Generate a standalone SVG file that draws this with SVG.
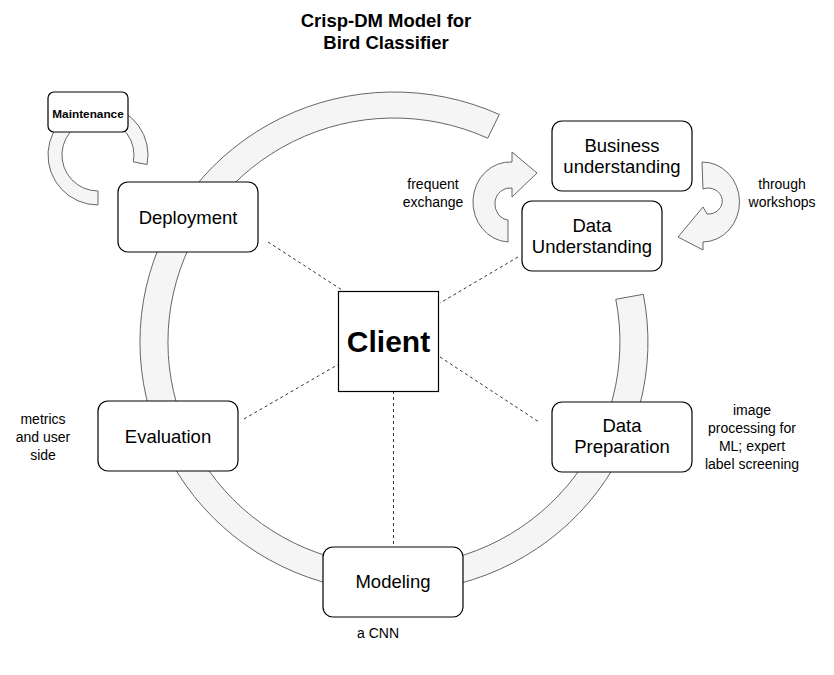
<svg xmlns="http://www.w3.org/2000/svg" width="834" height="675" viewBox="0 0 834 675">
<style>
text{font-family:"Liberation Sans",Arial,Helvetica,sans-serif;fill:#000;text-anchor:middle}
.box{fill:#fff;stroke:#000;stroke-width:1.2}
.band{fill:#f5f5f5;stroke:#666;stroke-width:1}
.lbl{font-size:18.5px}
.note{font-size:14px}
.conn line{stroke:#333;stroke-width:1;stroke-dasharray:3 3}
</style>
<rect width="834" height="675" fill="#fff"/>
<g id="title"><text x="386" y="26.5" style="font-size:18.5px;font-weight:bold">Crisp-DM Model for</text><text x="386" y="48.5" style="font-size:18.5px;font-weight:bold">Bird Classifier</text></g>
<g id="cycle-ring"><path class="band" d="M 643.3 294.3 A 254 250 0 1 1 499.3 114.5 L 487.7 138.2 A 226 224 0 1 0 615.8 299.3 Z"/></g>
<g id="maintenance-arrow"><path class="band" d="M 147.1 164.5 A 50 50 0 1 0 98 205 L 98 191 A 36 36 0 1 1 133.3 161.9 Z"/></g>
<g id="exchange-arrow"><path class="band" d="M 508 242 A 37 40 0 1 1 512 162 L 512 152 L 537 173 L 512 197 L 512 188 A 15 16 0 1 0 508 220 Z"/></g>
<g id="workshop-arrow"><path class="band" d="M 702 162 A 37 40 0 1 1 703 242 L 703 250 L 678 237 L 703 207 L 707 214 A 14 13 0 1 0 703 189 Z"/></g>
<g class="conn" id="connectors">
<line x1="268" y1="242" x2="342" y2="290"/>
<line x1="518" y1="257" x2="440" y2="303"/>
<line x1="244" y1="419" x2="339" y2="364"/>
<line x1="440" y1="357" x2="539" y2="422"/>
<line x1="393.5" y1="391" x2="393.5" y2="547"/>
</g>
<g id="maintenance"><rect class="box" x="48" y="92" width="80" height="40" rx="6"/><text x="88" y="117.5" style="font-size:11.8px;font-weight:bold">Maintenance</text></g>
<g id="deployment"><rect class="box" x="118" y="182" width="140" height="70" rx="10"/><text class="lbl" x="188" y="223.5">Deployment</text></g>
<g id="business-understanding"><rect class="box" x="552" y="121" width="140" height="70" rx="10"/><text class="lbl" x="622" y="152">Business</text><text class="lbl" x="622" y="173">understanding</text></g>
<g id="data-understanding"><rect class="box" x="522" y="201" width="140" height="70" rx="10"/><text class="lbl" x="592" y="231.5">Data</text><text class="lbl" x="592" y="252.5">Understanding</text></g>
<g id="client"><rect x="338.5" y="291.5" width="100" height="100" fill="#fff" stroke="#000" stroke-width="1.2"/><text x="388.5" y="352" style="font-size:30px;font-weight:bold">Client</text></g>
<g id="evaluation"><rect class="box" x="98" y="401" width="140" height="70" rx="10"/><text class="lbl" x="168" y="443">Evaluation</text></g>
<g id="data-preparation"><rect class="box" x="552" y="402" width="140" height="70" rx="10"/><text class="lbl" x="622" y="431.5">Data</text><text class="lbl" x="622" y="453">Preparation</text></g>
<g id="modeling"><rect class="box" x="323" y="547" width="140" height="70" rx="10"/><text class="lbl" x="393" y="588">Modeling</text></g>
<g id="notes">
<text class="note" x="433" y="189">frequent</text><text class="note" x="433" y="207">exchange</text>
<text class="note" x="782" y="189">through</text><text class="note" x="782" y="207">workshops</text>
<text class="note" x="43" y="423.5">metrics</text><text class="note" x="43" y="441.5">and user</text><text class="note" x="43" y="459.5">side</text>
<text class="note" x="752" y="415">image</text><text class="note" x="752" y="433">processing for</text><text class="note" x="752" y="451">ML; expert</text><text class="note" x="752" y="469">label screening</text>
<text class="note" x="378" y="638">a CNN</text>
</g>
</svg>
